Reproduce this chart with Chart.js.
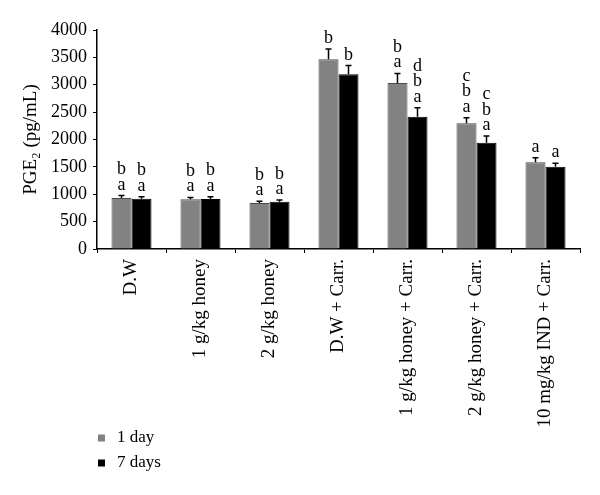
<!DOCTYPE html>
<html>
<head>
<meta charset="utf-8">
<script src="https://cdn.jsdelivr.net/npm/chart.js@4"></script>
<style>
  html, body { margin: 0; padding: 0; background: #fff; }
  #wrap { width: 600px; height: 495px; position: relative; }
</style>
</head>
<body>
<div id="wrap"><canvas id="pgeChart"></canvas></div>
<script>
// Datos
const groups = ['D.W', '1 g/kg honey', '2 g/kg honey', 'D.W + Carr.', '1 g/kg honey + Carr.', '2 g/kg honey + Carr.', '10 mg/kg IND + Carr.'];
const day1 = [931, 907, 840, 3465, 3032, 2295, 1583];
const day7 = [920, 913, 864, 3190, 2417, 1942, 1504];
const day1Err = [45, 35, 30, 190, 175, 100, 85];
const day7Err = [35, 40, 30, 160, 165, 120, 60];
const day1Letters = [['a', 'b'], ['a', 'b'], ['a', 'b'], ['b'], ['a', 'b'], ['a', 'b', 'c'], ['a']];
const day7Letters = [['a', 'b'], ['a', 'b'], ['a', 'b'], ['b'], ['a', 'b', 'd'], ['a', 'b', 'c'], ['a']];
const yTicks = [0, 500, 1000, 1500, 2000, 2500, 3000, 3500, 4000];

const serif = "'Liberation Serif', 'DejaVu Serif', serif";

// barras de error + letras de significancia
const annotations = {
    id: 'annotations',
    afterDatasetsDraw(chart) {
        const ctx = chart.ctx;
        const y = chart.scales.y;
        const errs = [day1Err, day7Err];
        const letters = [day1Letters, day7Letters];
        ctx.save();
        chart.data.datasets.forEach((ds, di) => {
            const meta = chart.getDatasetMeta(di);
            meta.data.forEach((bar, i) => {
                const capY = y.getPixelForValue(ds.data[i] + errs[di][i]);
                ctx.strokeStyle = '#000';
                ctx.lineWidth = 1.5;
                ctx.beginPath();
                ctx.moveTo(bar.x, bar.y);
                ctx.lineTo(bar.x, capY);
                ctx.moveTo(bar.x - 3, capY);
                ctx.lineTo(bar.x + 3, capY);
                ctx.stroke();

                ctx.fillStyle = '#000';
                ctx.font = '18px ' + serif;
                ctx.textAlign = 'center';
                ctx.textBaseline = 'alphabetic';
                letters[di][i].forEach((l, k) => {
                    ctx.fillText(l, bar.x, capY - 6 - k * 15.5);
                });
            });
        });
        ctx.restore();
    }
};

// leyenda vertical abajo a la izquierda
const bottomLegend = {
    id: 'bottomLegend',
    afterDraw(chart) {
        const ctx = chart.ctx;
        ctx.save();
        ctx.font = '17px ' + serif;
        ctx.textBaseline = 'middle';
        ctx.textAlign = 'left';
        chart.data.datasets.forEach((ds, i) => {
            const cy = 438 + i * 25;
            ctx.fillStyle = ds.backgroundColor;
            ctx.fillRect(98, cy - 3.5, 7, 7);
            ctx.fillStyle = '#000';
            ctx.fillText(ds.label, 117, cy);
        });
        ctx.restore();
    }
};

new Chart(document.getElementById('pgeChart'), {
    type: 'bar',
    data: {
        labels: groups,
        datasets: [{
            label: '1 day',
            data: day1,
            backgroundColor: '#828282',
            borderColor: '#4a4a4a',
            borderWidth: 1,
            categoryPercentage: 0.58,
            barPercentage: 1.0
        }, {
            label: '7 days',
            data: day7,
            backgroundColor: '#000000',
            borderColor: '#000000',
            borderWidth: 1,
            categoryPercentage: 0.58,
            barPercentage: 1.0
        }]
    },
    options: {
        responsive: true,
        maintainAspectRatio: false,
        animation: false,
        layout: {
            padding: { top: 30, right: 20, bottom: 58, left: 0 }
        },
        plugins: {
            legend: { display: false },
            tooltip: { enabled: false }
        },
        scales: {
            y: {
                min: 0,
                max: 4000,
                afterBuildTicks: (scale) => {
                    scale.ticks = yTicks.map(v => ({ value: v }));
                },
                afterFit: (scale) => { scale.width = 97; },
                border: { color: '#000', width: 1.5 },
                grid: {
                    drawOnChartArea: false,
                    drawTicks: true,
                    tickLength: 4,
                    color: '#000'
                },
                ticks: {
                    color: '#000',
                    padding: 6,
                    font: { family: serif, size: 18 },
                    callback: (value) => String(value)
                },
                title: {
                    display: true,
                    text: 'PGE₂ (pg/mL)',
                    color: '#000',
                    font: { family: serif, size: 19 },
                    padding: { top: 20, bottom: 0 }
                }
            },
            x: {
                afterFit: (scale) => { scale.height = 188; },
                border: { color: '#000', width: 1.5 },
                grid: {
                    drawOnChartArea: false,
                    drawTicks: true,
                    tickLength: 4,
                    color: '#000',
                    offset: true
                },
                ticks: {
                    color: '#000',
                    minRotation: 90,
                    maxRotation: 90,
                    padding: 6,
                    font: { family: serif, size: 19 }
                }
            }
        }
    },
    plugins: [annotations, bottomLegend]
});
</script>
</body>
</html>
